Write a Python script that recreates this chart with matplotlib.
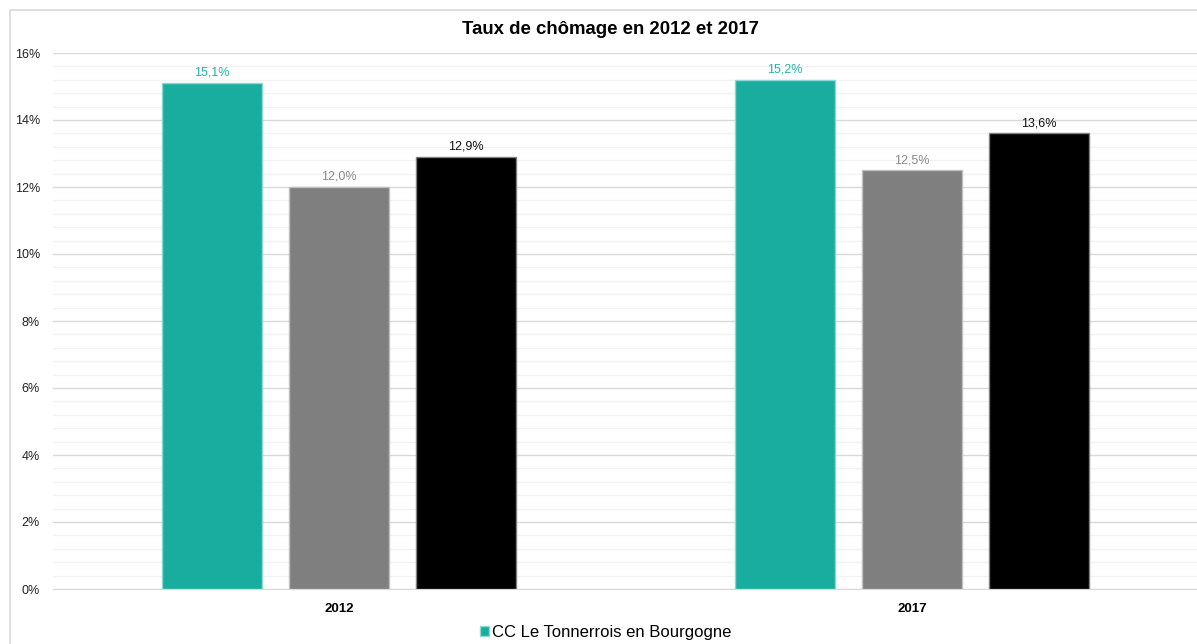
import matplotlib.pyplot as plt
from matplotlib.patches import Rectangle
from matplotlib.ticker import MultipleLocator, FuncFormatter

plt.rcParams['font.family'] = ['Liberation Sans', 'DejaVu Sans']

years = ["2012", "2017"]
tonnerrois = [15.1, 15.2]
serie_grise = [12.0, 12.5]
serie_noire = [12.9, 13.6]
legend_label = "CC Le Tonnerrois en Bourgogne"
title = "Taux de chômage en 2012 et 2017"

series = [tonnerrois, serie_grise, serie_noire]
colors = ["#19ad9f", "#7f7f7f", "#000000"]
edges = ["#8fd8d0", "#bfbfbf", "#7f7f7f"]
label_colors = ["#22b3a4", "#8a8a8a", "#111111"]

fig = plt.figure(figsize=(11.97, 6.44), dpi=100)
fig.patches.append(Rectangle((10 / 1197, -0.1), 1.2, 1 - 10 / 644 + 0.1,
                             transform=fig.transFigure, fill=False,
                             edgecolor="#d9d9d9", linewidth=1.2))
ax = fig.add_axes([52.5 / 1197, 1 - 589 / 644, 1146 / 1197, 536 / 644])

width = 0.176
step = 0.2216
x = range(len(years))
for i, vals in enumerate(series):
    pos = [k + (i - 1) * step for k in x]
    bars = ax.bar(pos, vals, width, color=colors[i], edgecolor=edges[i],
                  linewidth=1, zorder=3,
                  label=legend_label if i == 0 else "_nolegend_")
    for b, v in zip(bars, vals):
        ax.annotate(("%.1f%%" % v).replace(".", ","),
                    (b.get_x() + b.get_width() / 2, v),
                    xytext=(0, 3), textcoords="offset points",
                    ha="center", va="bottom", fontsize=9, color=label_colors[i])

ax.set_xlim(-0.5, 1.5)
ax.set_ylim(0, 16)
ax.yaxis.set_major_locator(MultipleLocator(2))
ax.yaxis.set_minor_locator(MultipleLocator(0.4))
ax.yaxis.set_major_formatter(FuncFormatter(lambda v, p: "%d%%" % v))
ax.grid(axis="y", which="major", color="#d9d9d9", linewidth=1, zorder=0)
ax.grid(axis="y", which="minor", color="#f2f2f2", linewidth=1, zorder=0)
ax.set_axisbelow(True)
ax.set_xticks(list(x))
ax.set_xticklabels(years, fontweight="bold", fontsize=9.5)
ax.tick_params(axis="both", which="both", length=0)
ax.tick_params(axis="y", labelsize=9, pad=9, labelcolor="#222222")
ax.tick_params(axis="x", pad=10)
for s in ["top", "right", "left"]:
    ax.spines[s].set_visible(False)
ax.spines["bottom"].set_color("#d9d9d9")

fig.text(0.51, 1 - 30 / 644, title, ha="center", va="center",
         fontsize=13.4, fontweight="bold")
fig.legend(loc="center", bbox_to_anchor=(605.5 / 1197, 1 - 632 / 644), frameon=False,
           fontsize=12, handlelength=0.55, handleheight=0.55, handletextpad=0.2)

fig.savefig("out.png", dpi=100)
